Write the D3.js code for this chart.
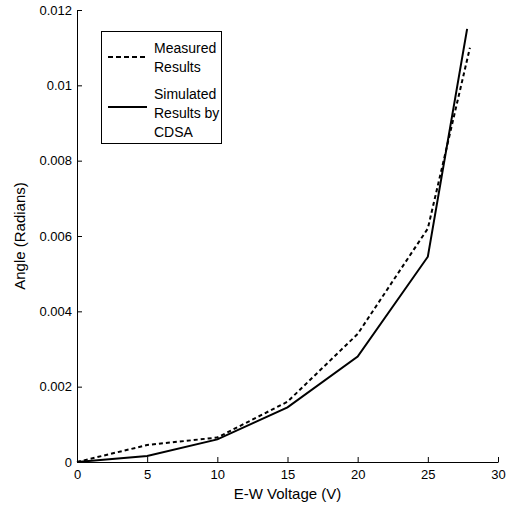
<!DOCTYPE html>
<html>
<head>
<meta charset="utf-8">
<script src="https://cdn.jsdelivr.net/npm/d3@7"></script>
<style>
body { margin: 0; background: #fff; }
text { font-family: "Liberation Sans", Arial, sans-serif; fill: #000; }
</style>
</head>
<body>
<div id="chart"></div>
<script>
// values
var measuredV = [0, 5, 10, 15, 20, 25, 28];
var measuredAngle = [0, 0.00045, 0.00065, 0.0016, 0.0034, 0.0062, 0.011];
var simulatedV = [0, 5, 10, 15, 20, 25, 27.8];
var simulatedAngle = [0, 0.00016, 0.0006, 0.00145, 0.0028, 0.00545, 0.0115];
var xTicks = [0, 5, 10, 15, 20, 25, 30];
var yTicks = [0, 0.002, 0.004, 0.006, 0.008, 0.01, 0.012];
var legendLabels = [["Measured", "Results"], ["Simulated", "Results by", "CDSA"]];

var width = 511, height = 506;
var svg = d3.select("#chart").append("svg")
            .attr("width", width)
            .attr("height", height);

var x = d3.scaleLinear().domain([0, 30]).range([77, 498]);
var y = d3.scaleLinear().domain([0, 0.012]).range([462, 10]);

// bottom axis, ticks inward
var xAxis = svg.append("g")
               .attr("transform", "translate(0," + y(0) + ")")
               .call(d3.axisBottom(x).tickValues(xTicks).tickSizeInner(-5).tickSizeOuter(0)
                       .tickFormat(function(d){ return "" + d; }));
xAxis.selectAll("text").attr("y", 8).attr("dy", "0.71em").style("font-size", "13px").style("font-family", "Liberation Sans, Arial");

var yAxis = svg.append("g")
               .attr("transform", "translate(" + x(0) + ",0)")
               .call(d3.axisLeft(y).tickValues(yTicks).tickSizeInner(-5).tickSizeOuter(0)
                       .tickFormat(function(d){ return d === 0 ? "0" : d3.format("")(+d.toFixed(3)); }));
yAxis.selectAll("text").attr("x", -5).style("font-size", "13px").style("font-family", "Liberation Sans, Arial");
svg.selectAll(".domain, .tick line").style("stroke", "#000");

// lines
var line = d3.line()
             .x(function(d){ return x(d[0]); })
             .y(function(d){ return y(d[1]); });

var simPts = simulatedV.map(function(v, i){ return [v, simulatedAngle[i]]; });
var measPts = measuredV.map(function(v, i){ return [v, measuredAngle[i]]; });

svg.append("path")
   .attr("d", line(simPts))
   .style("fill", "none")
   .style("stroke", "#000")
   .style("stroke-width", 2);

svg.append("path")
   .attr("d", line(measPts))
   .style("fill", "none")
   .style("stroke", "#000")
   .style("stroke-width", 2)
   .style("stroke-dasharray", "4, 3");

// axis labels
svg.append("text")
   .attr("x", x(15))
   .attr("y", 499)
   .style("text-anchor", "middle")
   .style("font-size", "15px")
   .text("E-W Voltage (V)");

svg.append("text")
   .attr("transform", "translate(25," + y(0.006) + ") rotate(-90)")
   .style("text-anchor", "middle")
   .style("font-size", "15px")
   .text("Angle (Radians)");

// legend
var legend = svg.append("g");
legend.append("rect")
      .attr("x", 101.5).attr("y", 31.5)
      .attr("width", 120).attr("height", 112)
      .style("fill", "#fff")
      .style("stroke", "#000")
      .style("stroke-width", 1);

legend.append("line")
      .attr("x1", 108).attr("x2", 146).attr("y1", 57).attr("y2", 57)
      .style("stroke", "#000").style("stroke-width", 2)
      .style("stroke-dasharray", "5, 3");
legend.append("line")
      .attr("x1", 108).attr("x2", 147).attr("y1", 107).attr("y2", 107)
      .style("stroke", "#000").style("stroke-width", 2);

var textY = [[53, 72], [99, 118, 137]];
legendLabels.forEach(function(lines, i){
	lines.forEach(function(t, j){
		legend.append("text")
		      .attr("x", 154)
		      .attr("y", textY[i][j])
		      .style("font-size", "14px")
		      .text(t);
	});
});
</script>
</body>
</html>
